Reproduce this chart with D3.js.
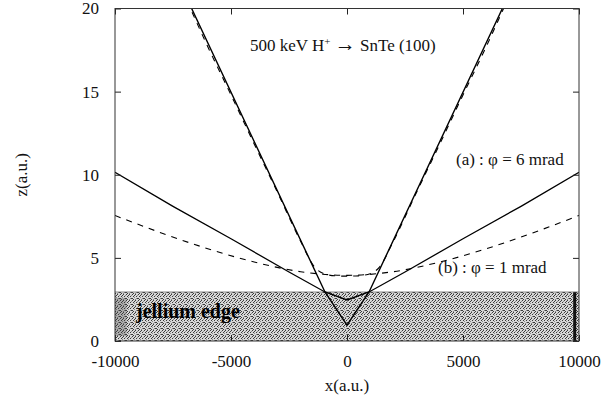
<!DOCTYPE html>
<html>
<head>
<meta charset="utf-8">
<script src="https://cdn.jsdelivr.net/npm/d3@7"></script>
<style>
  body { margin: 0; background: #fff; }
  svg text { font-family: "Liberation Serif", "Times New Roman", serif !important; fill: #111; }
</style>
</head>
<body>
<div id="chart"></div>
<script>
// axis ticks
var xTicks = [-10000, -5000, 0, 5000, 10000];
var yTicks = [0, 5, 10, 15, 20];

// (a) phi = 6 mrad
var solidA = [[-7000, 20.9], [-950, 2.95], [0, 0.95], [950, 2.95], [7000, 20.9]];
var dashedA = [[-7100, 21.1], [-6000, 17.7], [-5000, 14.8], [-4000, 11.85], [-3000, 8.95], [-2000, 6.0],
               [-1400, 4.45], [-1000, 4.05], [-500, 3.92], [0, 3.9], [500, 3.92], [1000, 4.05],
               [1400, 4.45], [2000, 6.0], [3000, 8.95], [4000, 11.85], [5000, 14.8], [6000, 17.7], [7100, 21.1]];

// (b) phi = 1 mrad
var solidB = [[-10000, 10.15], [-7500, 8.1], [-5000, 6.15], [-2500, 4.15], [-950, 2.95], [0, 2.47],
              [950, 2.95], [2500, 4.15], [5000, 6.15], [7500, 8.1], [10000, 10.15]];
var dashedB = [[-10000, 7.55], [-8000, 6.5], [-6000, 5.55], [-4000, 4.75], [-2000, 4.17], [0, 3.95],
               [2000, 4.17], [4000, 4.75], [6000, 5.55], [8000, 6.5], [10000, 7.55]];

// jellium edge
var jellium = { x0: -10000, x1: 10000, z: 2.95 };

var width = 602, height = 403;
var margin = { left: 115, right: 23, top: 8.5, bottom: 62 };

var svg = d3.select("#chart").append("svg")
    .attr("width", width)
    .attr("height", height);

var x = d3.scaleLinear().domain([-10000, 10000]).range([margin.left, width - margin.right]);
var y = d3.scaleLinear().domain([0, 20]).range([height - margin.bottom, margin.top]);

var defs = svg.append("defs");
defs.append("clipPath").attr("id", "clip")
    .append("rect")
    .attr("x", x(-10000)).attr("y", y(20))
    .attr("width", x(10000) - x(-10000)).attr("height", y(0) - y(20));

// stipple for the jellium
var pat = defs.append("pattern").attr("id", "stipple")
    .attr("patternUnits", "userSpaceOnUse")
    .attr("width", 6).attr("height", 6);
pat.append("rect").attr("width", 6).attr("height", 6).attr("fill", "#d8d8d8");
var dots = [[0, 0], [3, 0], [5, 1], [1, 2], [4, 2], [2, 3], [0, 4], [5, 4], [3, 5], [1, 5], [2, 1], [4, 4]];
dots.forEach(function (p, i) {
    pat.append("rect").attr("x", p[0]).attr("y", p[1]).attr("width", 1).attr("height", 1)
        .attr("fill", i % 3 == 2 ? "#888" : "#3a3a3a");
});

var plot = svg.append("g").attr("clip-path", "url(#clip)");

plot.append("rect")
    .attr("x", x(jellium.x0)).attr("y", y(jellium.z))
    .attr("width", x(jellium.x1) - x(jellium.x0))
    .attr("height", y(0) - y(jellium.z))
    .attr("fill", "url(#stipple)");

// dark bar near right end of the jellium
plot.append("rect")
    .attr("x", x(9750)).attr("y", y(jellium.z))
    .attr("width", x(9880) - x(9750)).attr("height", y(0) - y(jellium.z))
    .attr("fill", "#111");
// darker smudge at left
plot.append("rect")
    .attr("x", x(-10000)).attr("y", y(2.6))
    .attr("width", x(-9500) - x(-10000)).attr("height", y(0.3) - y(2.6))
    .attr("fill", "#444").attr("opacity", 0.3);

plot.append("line")
    .attr("x1", x(jellium.x0)).attr("x2", x(jellium.x1))
    .attr("y1", y(jellium.z)).attr("y2", y(jellium.z))
    .attr("stroke", "#666").attr("stroke-width", 0.7);

svg.append("text")
    .attr("x", 136).attr("y", 318)
    .style("font-size", "20px").style("font-weight", "bold")
    .style("fill", "#000")
    .text("jellium edge");

var lineStraight = d3.line().x(d => x(d[0])).y(d => y(d[1]));
var lineSmooth = d3.line().x(d => x(d[0])).y(d => y(d[1])).curve(d3.curveMonotoneX);

plot.append("path").attr("d", lineStraight(solidA))
    .attr("fill", "none").attr("stroke", "#000").attr("stroke-width", 1.4);
plot.append("path").attr("d", lineSmooth(dashedA))
    .attr("fill", "none").attr("stroke", "#000").attr("stroke-width", 1.1)
    .attr("stroke-dasharray", "6,6");
plot.append("path").attr("d", lineStraight(solidB))
    .attr("fill", "none").attr("stroke", "#000").attr("stroke-width", 1.3);
plot.append("path").attr("d", lineSmooth(dashedB))
    .attr("fill", "none").attr("stroke", "#000").attr("stroke-width", 1.1)
    .attr("stroke-dasharray", "6,6");

// frame + inward ticks
var tick = 6;
var fmt = function (d) { return String(d); };
svg.append("g").attr("transform", "translate(0," + y(0) + ")")
    .call(d3.axisBottom(x).tickValues(xTicks).tickSizeInner(-tick).tickSizeOuter(0).tickPadding(14).tickFormat(fmt))
    .call(g => g.select(".domain").remove());
svg.append("g").attr("transform", "translate(0," + y(20) + ")")
    .call(d3.axisTop(x).tickValues(xTicks).tickSizeInner(-tick).tickSizeOuter(0).tickFormat(""))
    .call(g => g.select(".domain").remove());
svg.append("g").attr("transform", "translate(" + x(-10000) + ",0)")
    .call(d3.axisLeft(y).tickValues(yTicks).tickSizeInner(-tick).tickSizeOuter(0).tickPadding(16).tickFormat(fmt))
    .call(g => g.select(".domain").remove());
svg.append("g").attr("transform", "translate(" + x(10000) + ",0)")
    .call(d3.axisRight(y).tickValues(yTicks).tickSizeInner(-tick).tickSizeOuter(0).tickFormat(""))
    .call(g => g.select(".domain").remove());

svg.selectAll("g").attr("font-family", null).attr("font-size", null);
svg.selectAll(".tick line").attr("stroke", "#222");
svg.selectAll(".tick text").style("font-size", "17px").attr("fill", "#111");

svg.append("rect")
    .attr("x", x(-10000)).attr("y", y(20))
    .attr("width", x(10000) - x(-10000)).attr("height", y(0) - y(20))
    .attr("fill", "none").attr("stroke", "#333").attr("stroke-width", 1);

// labels
svg.append("text")
    .attr("x", x(0)).attr("y", 391)
    .attr("text-anchor", "middle").style("font-size", "17px")
    .text("x(a.u.)");
svg.append("text")
    .attr("transform", "translate(27," + y(10) + ") rotate(-90)")
    .attr("text-anchor", "middle").style("font-size", "17px")
    .text("z(a.u.)");

var title = svg.append("text").attr("x", 250).attr("y", 51).style("font-size", "17px");
title.append("tspan").text("500 keV H");
title.append("tspan").attr("dy", -6).style("font-size", "11px").text("+");
title.append("tspan").attr("dy", 6).text(" ");
title.append("tspan").style("font-size", "21px").text("\u2192");
title.append("tspan").text("  SnTe (100)");

svg.append("text").attr("x", 456).attr("y", 165).style("font-size", "17px")
    .text("(a) : \u03c6 = 6 mrad");
svg.append("text").attr("x", 438).attr("y", 273).style("font-size", "17px")
    .text("(b) : \u03c6 = 1 mrad");
</script>
</body>
</html>
